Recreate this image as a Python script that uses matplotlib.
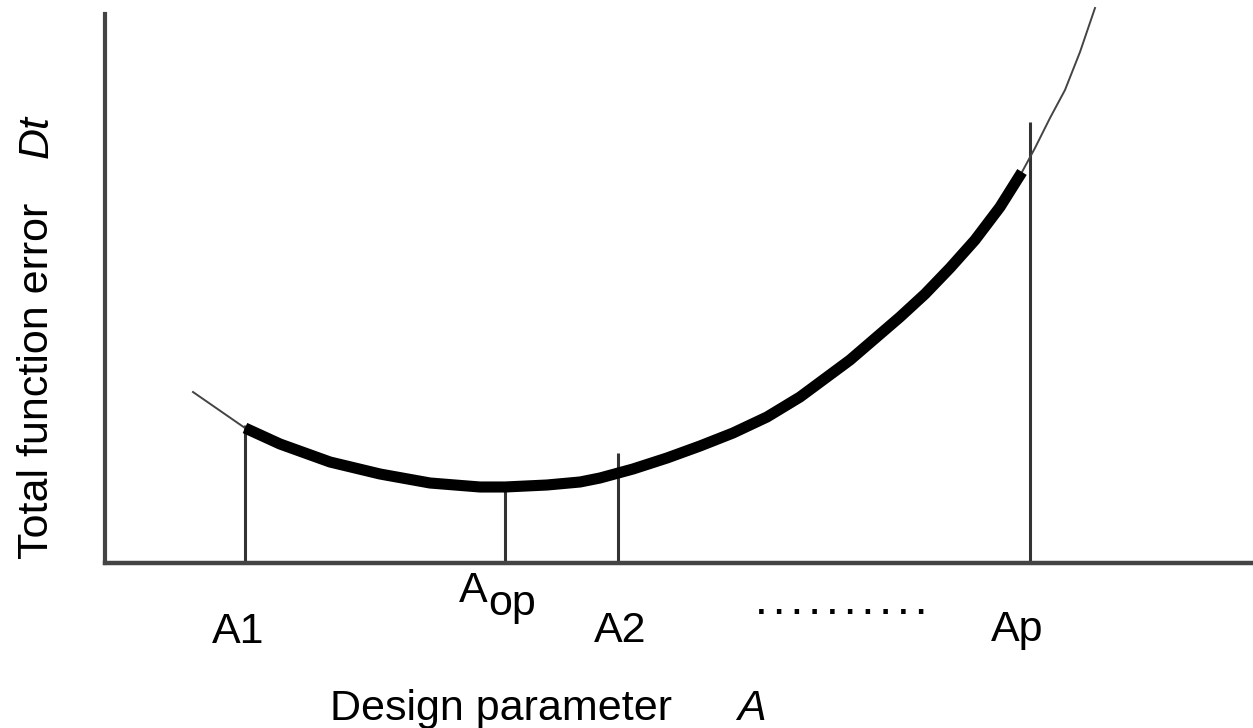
import matplotlib
matplotlib.use("Agg")
import matplotlib.pyplot as plt
from matplotlib import font_manager
import numpy as np

# curve (arbitrary units)
curve_a = [88, 140, 175, 225, 275, 325, 375, 400, 442, 475, 495, 528, 562,
           595, 628, 662, 695, 745, 795, 820, 845, 870, 895, 917, 930,
           945, 960, 975, 990]
curve_dt = [171, 135, 119, 101, 89, 80, 76, 76, 78, 81, 85, 94, 105,
            117, 130, 146, 166, 203, 246, 269, 295, 323, 356, 391, 415,
            445, 473, 511, 555]

# design points and how high their marker lines reach
marker_names = ['A1', 'Aop', 'A2', 'Ap']
marker_a = [140, 400, 513, 925]
marker_top = [138, 76, 110, 441]

# range of A that is drawn thick
thick_from = 140
thick_to = 917

names = {f.name for f in font_manager.fontManager.ttflist}
main_font = 'Liberation Sans' if 'Liberation Sans' in names else 'DejaVu Sans'
tick_font = 'Liberation Sans Narrow' if 'Liberation Sans Narrow' in names else main_font
plt.rcParams['font.family'] = [main_font, 'DejaVu Sans']

fig = plt.figure(figsize=(12.53, 7.28), dpi=100)
ax = fig.add_axes([105 / 1253, 165 / 728, 1148 / 1253, 563 / 728])
ax.set_xlim(0, 1148)
ax.set_ylim(0, 563)

a = np.asarray(curve_a)
dt = np.asarray(curve_dt)

ax.plot(a, dt, color='#444444', lw=1.4, zorder=2)
mask = (a >= thick_from) & (a <= thick_to)
ax.plot(a[mask], dt[mask], color='black', lw=8, solid_capstyle='butt',
        solid_joinstyle='round', zorder=3)

ax.vlines(marker_a, 0, marker_top, color='#333333', lw=2.2, zorder=1)

# labels under the axis
ax.text(marker_a[0] - 7, -80, marker_names[0], ha='center', va='baseline',
        fontsize=31, family=tick_font)
ax.text(marker_a[1] - 32, -39, 'A', ha='center', va='baseline', fontsize=31)
ax.text(marker_a[1] + 7, -52, 'op', ha='center', va='baseline', fontsize=31)
ax.text(marker_a[2] + 2, -79, marker_names[2], ha='center', va='baseline',
        fontsize=31, family=tick_font)
ax.text(marker_a[3] - 13, -78, marker_names[3], ha='center', va='baseline',
        fontsize=31)
ax.text(736, -51, '. . . . . . . . . .', ha='center', va='baseline',
        fontsize=23, fontweight='bold')

ax.text(396, -157, 'Design parameter', ha='center', va='baseline', fontsize=31)
ax.text(646, -157, 'A', ha='center', va='baseline', fontsize=31, style='italic')
ax.text(-68, 182, 'Total function error', rotation=90, ha='center',
        va='center', fontsize=31)
ax.text(-68, 427, 'Dt', rotation=90, ha='center', va='center',
        fontsize=31, style='italic')

for s in ['top', 'right']:
    ax.spines[s].set_visible(False)
ax.spines['left'].set_bounds(0, 549)
ax.spines['left'].set_linewidth(3)
ax.spines['bottom'].set_linewidth(3.2)
ax.spines['left'].set_color('#444444')
ax.spines['bottom'].set_color('#444444')
ax.set_xticks([])
ax.set_yticks([])
ax.patch.set_alpha(0)

fig.savefig('out.png', dpi=100)
